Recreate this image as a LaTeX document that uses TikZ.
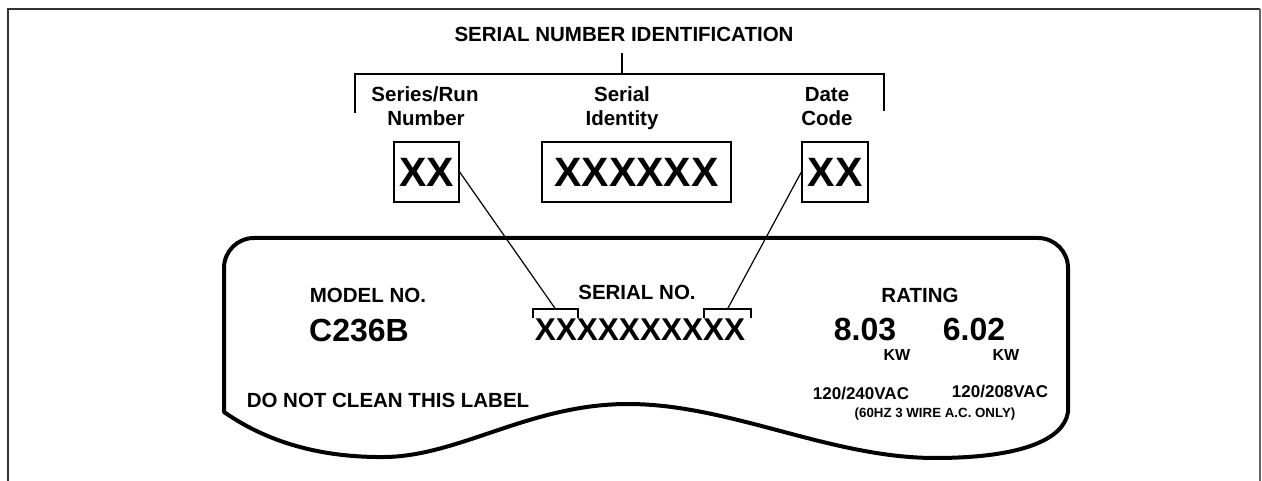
\documentclass[tikz,border=0pt]{standalone}
\usepackage{fontspec}
\setmainfont{Liberation Sans}
\begin{document}
\begin{tikzpicture}[x=1pt,y=-1pt,
  txt/.style={font=\bfseries\fontsize{20.5}{24}\selectfont, inner sep=0pt, anchor=base},
  big/.style={font=\bfseries\fontsize{32}{36}\selectfont, inner sep=0pt, anchor=base},
  small/.style={font=\bfseries\fontsize{16}{18}\selectfont, inner sep=0pt, anchor=base},
  volt/.style={font=\bfseries\fontsize{17}{19}\selectfont, inner sep=0pt, anchor=base},
  tiny/.style={font=\bfseries\fontsize{13.3}{15}\selectfont, inner sep=0pt, anchor=base},
  xbox/.style={draw, line width=1.3pt, font=\bfseries\fontsize{41}{45}\selectfont, minimum height=60pt, inner sep=0pt},
  frame/.style={line width=2.5pt, draw=black!80},
  brk/.style={line width=1.6pt},
  sbrk/.style={line width=1.3pt},
  conn/.style={line width=1.2pt},
  outline/.style={line width=4pt, line join=round}]
\useasboundingbox (0,0) rectangle (1262,481);
% frame
\draw[frame] (8,481) -- (8,9) -- (1260,9);
\draw[line width=1.5pt, draw=black!60] (1260,9) -- (1260,481);
% title
\node[txt] (title) at (624,42) {SERIAL NUMBER IDENTIFICATION};
\coordinate (stemtop) at (622,53);
\coordinate (stem) at (622,74);
\draw[brk] (stemtop) -- (stem);
\draw[brk] (355,113) -- (355,74) -- (884,74) -- (884,111);
% headings
\node[txt] (sr1) at (425,102) {Series/Run};
\node[txt] (sr2) at (426,126) {Number};
\node[txt] (si1) at (622,102) {Serial};
\node[txt] (si2) at (622,126) {Identity};
\node[txt] (dc1) at (827,102) {Date};
\node[txt] (dc2) at (827,126) {Code};
% boxes
\node[xbox, minimum width=65pt] (box1) at (426.5,172) {XX};
\node[xbox, minimum width=189pt] (box2) at (636.5,172) {XXXXXX};
\node[xbox, minimum width=66pt] (box3) at (835,172) {XX};
% label outline
\draw[outline] (224,412) [rounded corners=30pt] -- (224,238) -- (1068,238) [sharp corners] -- (1068,412)
  .. controls (1064,440) and (1020,458) .. (935,458)
  .. controls (830,458) and (730,404) .. (628,404)
  .. controls (530,404) and (460,456) .. (385,457)
  .. controls (300,458) and (250,430) .. (224,412) -- cycle;
% label texts
\node[txt] (model) at (368,302) {MODEL NO.};
\node[big] (modelno) at (359,341.5) {C236B};
\node[txt] (serial) at (637,300) {SERIAL NO.};
\node[big, font=\bfseries\fontsize{31.5}{36}\selectfont] (serialno) at (640,341) {XXXXXXXXXX};
\node[txt] (rating) at (920,302) {RATING};
\node[big] (r1) at (865,341) {8.03};
\node[big] (r2) at (974,341) {6.02};
\node[small] (kw1) at (897,360) {KW};
\node[small] (kw2) at (1006,360) {KW};
\node[volt] (v1) at (861,399) {120/240VAC};
\node[volt] (v2) at (1000,397) {120/208VAC};
\node[tiny] (hz) at (935,417) {(60HZ 3 WIRE A.C. ONLY)};
\node[txt] (clean) at (388,407) {DO NOT CLEAN THIS LABEL};
% serial brackets
\draw[sbrk] (533,318) -- (533,309) -- (578,309) -- (578,318);
\draw[sbrk] (704,318) -- (704,309) -- (751,309) -- (751,318);
\coordinate (br1) at (555.5,309);
\coordinate (br2) at (727.5,309);
% connectors
\draw[conn] (box1.east) -- (br1);
\draw[conn] (box3.west) -- (br2);
\end{tikzpicture}
\end{document}
